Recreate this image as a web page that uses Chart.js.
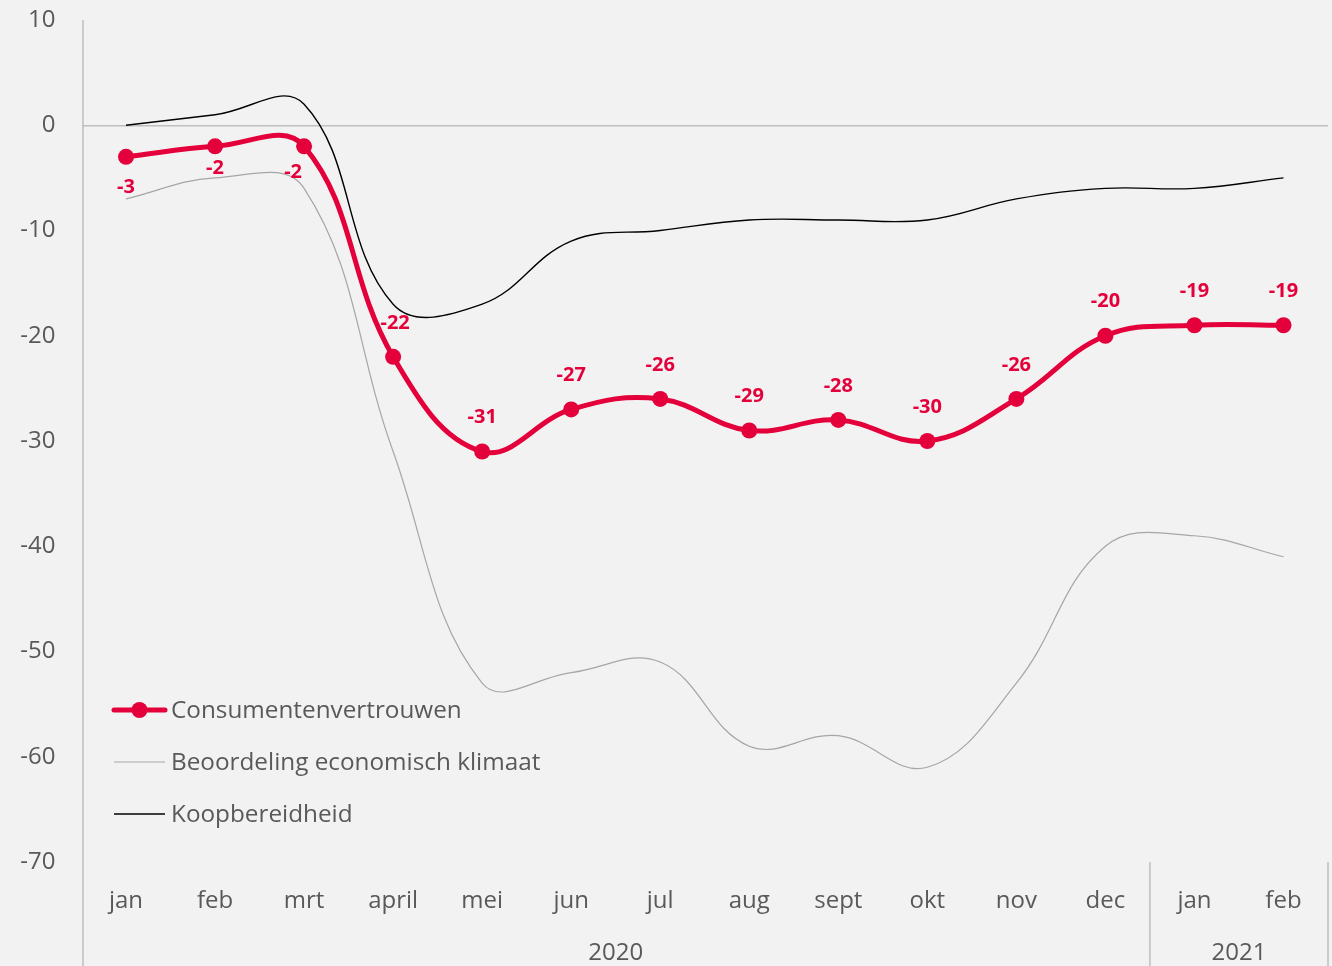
<!DOCTYPE html>
<html>
<head>
<meta charset="utf-8">
<script src="https://cdn.jsdelivr.net/npm/chart.js@4/dist/chart.umd.min.js"></script>
<style>
  html, body { margin: 0; padding: 0; background: #f2f2f2; }
  #wrap { width: 1332px; height: 966px; position: relative; }
</style>
</head>
<body>
<div id="wrap"><canvas id="chart" width="1332" height="966"></canvas></div>
<script>
// data
const months = ['jan', 'feb', 'mrt', 'april', 'mei', 'jun', 'jul', 'aug', 'sept', 'okt', 'nov', 'dec', 'jan', 'feb'];
const years = [{ label: '2020', from: 0, to: 11 }, { label: '2021', from: 12, to: 13 }];
const consumentenvertrouwen = [-3, -2, -2, -22, -31, -27, -26, -29, -28, -30, -26, -20, -19, -19];
const economischKlimaat = [-7, -5, -6, -31, -53, -52, -51, -59, -58, -61, -53, -40, -39, -41];
const koopbereidheid = [0, 1, 2, -17, -17, -11, -10, -9, -9, -9, -7, -6, -6, -5];
const yTicks = [10, 0, -10, -20, -30, -40, -50, -60, -70];

const RED = '#e4003a';
const TXT = '#595959';
const AXIS = '#bfbfbf';
const FONT = "'Open Sans', sans-serif";

// axis lines, year labels, legend and value labels
const extras = {
    id: 'extras',
    beforeDatasetsDraw(chart) {
        const ctx = chart.ctx;
        const a = chart.chartArea;
        const x = chart.scales.x;
        ctx.save();
        ctx.strokeStyle = AXIS;
        ctx.lineWidth = 1.5;
        ctx.beginPath();
        ctx.moveTo(83, a.top);
        ctx.lineTo(83, chart.height);
        // separators between year groups
        const half = (x.getPixelForValue(1) - x.getPixelForValue(0)) / 2;
        years.forEach(function(y) {
            const r = x.getPixelForValue(y.to) + half;
            ctx.moveTo(r, a.bottom);
            ctx.lineTo(r, chart.height);
        });
        ctx.stroke();
        ctx.fillStyle = TXT;
        ctx.font = '24px ' + FONT;
        ctx.textAlign = 'center';
        ctx.textBaseline = 'middle';
        years.forEach(function(y) {
            const c = (x.getPixelForValue(y.from) + x.getPixelForValue(y.to)) / 2;
            ctx.fillText(y.label, c, a.bottom + 91);
        });
        ctx.restore();
    },
    afterDatasetsDraw(chart) {
        const ctx = chart.ctx;
        ctx.save();
        // value labels (first three sit below their point)
        const meta = chart.getDatasetMeta(0);
        const nudge = { 0: [0, 30], 1: [0, 22], 2: [-11, 26], 3: [2, -34] };
        ctx.fillStyle = RED;
        ctx.font = 'bold 20px ' + FONT;
        ctx.textAlign = 'center';
        ctx.textBaseline = 'middle';
        meta.data.forEach(function(pt, i) {
            const n = nudge[i] || [0, -34];
            ctx.fillText(String(consumentenvertrouwen[i]), pt.x + n[0], pt.y + n[1]);
        });
        // legend
        const items = [
            { text: 'Consumentenvertrouwen', color: RED, width: 5, dot: true },
            { text: 'Beoordeling economisch klimaat', color: '#a6a6a6', width: 1.2 },
            { text: 'Koopbereidheid', color: '#000000', width: 1.5 }
        ];
        ctx.font = '24.3px ' + FONT;
        ctx.textAlign = 'left';
        items.forEach(function(it, i) {
            const y = 710 + i * 52;
            ctx.strokeStyle = it.color;
            ctx.lineWidth = it.width;
            ctx.lineCap = it.dot ? 'round' : 'butt';
            ctx.beginPath();
            ctx.moveTo(114, y);
            ctx.lineTo(165, y);
            ctx.stroke();
            if (it.dot) {
                ctx.fillStyle = it.color;
                ctx.beginPath();
                ctx.arc(139.5, y, 8, 0, Math.PI * 2);
                ctx.fill();
            }
            ctx.fillStyle = TXT;
            ctx.fillText(it.text, 171, y + 1);
        });
        ctx.restore();
    }
};

const ctx = document.getElementById('chart').getContext('2d');
new Chart(ctx, {
    type: 'line',
    data: {
        labels: months,
        datasets: [{
            label: 'Consumentenvertrouwen',
            data: consumentenvertrouwen,
            borderColor: RED,
            backgroundColor: RED,
            borderWidth: 5,
            pointRadius: 8,
            pointHoverRadius: 8,
            pointBorderWidth: 0,
            tension: 0.4,
            order: 0
        }, {
            label: 'Beoordeling economisch klimaat',
            data: economischKlimaat,
            borderColor: '#a6a6a6',
            borderWidth: 1.2,
            pointRadius: 0,
            tension: 0.4,
            order: 1
        }, {
            label: 'Koopbereidheid',
            data: koopbereidheid,
            borderColor: '#000000',
            borderWidth: 1.4,
            pointRadius: 0,
            tension: 0.4,
            order: 2
        }]
    },
    options: {
        responsive: false,
        animation: false,
        layout: { autoPadding: false, padding: { top: 20, right: 4, left: 0, bottom: 0 } },
        plugins: {
            legend: { display: false },
            tooltip: { enabled: false }
        },
        scales: {
            x: {
                offset: true,
                grid: { display: false, drawTicks: false },
                border: { display: false },
                ticks: {
                    color: TXT,
                    font: { family: FONT, size: 24 },
                    padding: 25,
                    maxRotation: 0,
                    autoSkip: false
                },
                afterFit(scale) {
                    scale.height = 104;
                    scale.paddingLeft = 0;
                    scale.paddingRight = 0;
                }
            },
            y: {
                min: -70,
                max: 10,
                afterBuildTicks(scale) { scale.ticks = yTicks.map(function(v) { return { value: v }; }); },
                grid: {
                    drawTicks: false,
                    lineWidth: 1.5,
                    color(c) { return c.tick && c.tick.value === 0 ? AXIS : 'rgba(0,0,0,0)'; }
                },
                border: { display: false },
                ticks: {
                    color: TXT,
                    font: { family: FONT, size: 24 },
                    padding: 26
                },
                afterFit(scale) {
                    scale.width = 81.5;
                    scale.paddingTop = 0;
                    scale.paddingBottom = 0;
                }
            }
        }
    },
    plugins: [extras]
});
</script>
</body>
</html>
